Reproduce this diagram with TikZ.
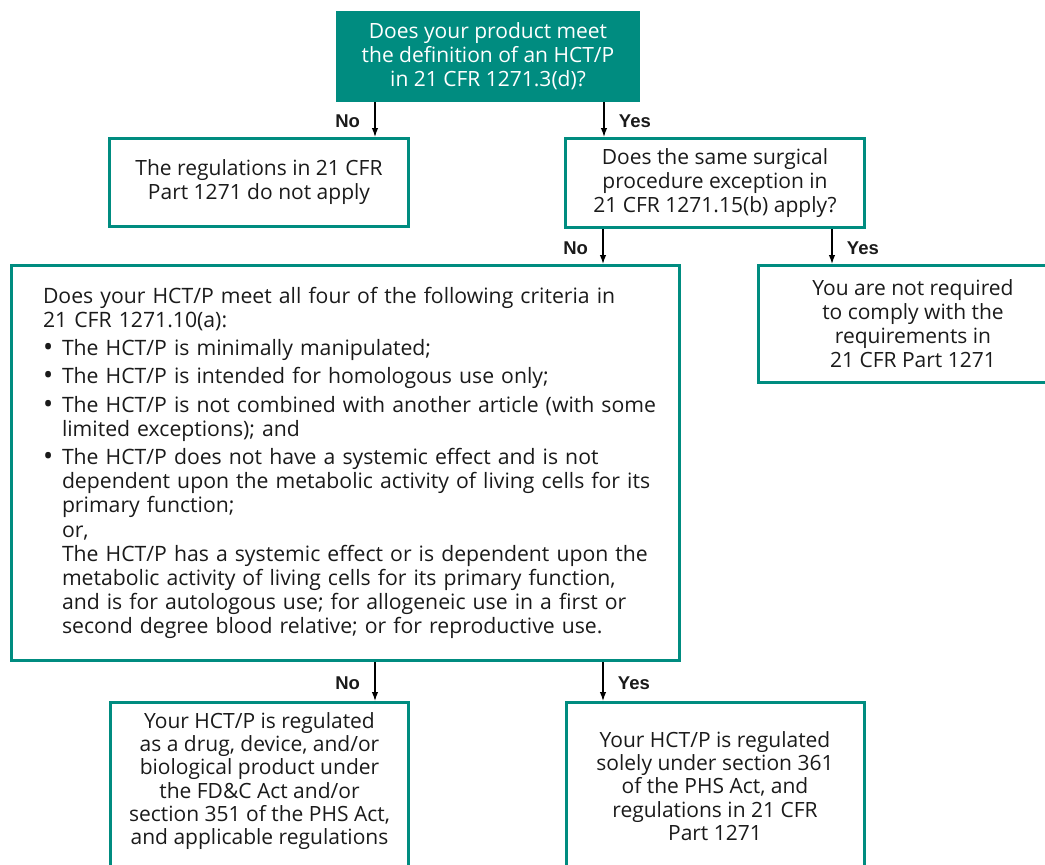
\documentclass[tikz,border=0pt]{standalone}
\usepackage{fontspec}
\setmainfont{Open Sans}
\newfontfamily\labfont{Liberation Sans}
\usetikzlibrary{arrows.meta}
\definecolor{teal1}{HTML}{008C80}
\definecolor{txt}{HTML}{1A1A1A}
\newcommand{\bul}{\makebox[19pt][l]{\raisebox{-1pt}{\fontsize{27}{24}\selectfont •}}}
\newcommand{\ind}{\hspace*{19pt}}
\begin{document}
\begin{tikzpicture}[x=1pt,y=-1pt,
  box/.style={draw=teal1, line width=3pt, align=center, inner sep=0pt,
    font=\fontsize{21}{24}\selectfont, text=txt},
  txtnode/.style={align=center, inner sep=0pt, font=\fontsize{21}{23.2}\selectfont, text=txt},
  arr/.style={-{Latex[length=9pt,width=6.5pt]}, line width=1.3pt},
  lab/.style={font=\labfont\bfseries\fontsize{18.5}{20}\selectfont, text=txt, pos=0.55}]
\useasboundingbox (0,0) rectangle (1045,865);

\node[box, fill=teal1, text=white, minimum width=301pt, minimum height=88pt] (q1) at (488,56.5)
  {Does your product meet\\the definition of an HCT/P\\in 21 CFR 1271.3(d)?};

\node[box, minimum width=299pt, minimum height=88pt] (b2) at (259,182.5)
  {The regulations in 21 CFR\\Part 1271 do not apply};

\node[box, minimum width=299pt, minimum height=89pt] (b3) at (715,183)
  {Does the same surgical\\procedure exception in\\21 CFR 1271.15(b) apply?};

\node[box, minimum width=668pt, minimum height=395pt, text width=650pt, align=left,
  font=\fontsize{21.2}{24.2}\selectfont] (b4) at (345.5,463)
  {\leftskip=22.5pt Does your HCT/P meet all four of the following criteria in\\
   21 CFR 1271.10(a):\\[4pt]
   \bul The HCT/P is minimally manipulated;\\[4pt]
   \bul The HCT/P is intended for homologous use only;\\[4pt]
   \bul The HCT/P is not combined with another article (with some\\
   \ind limited exceptions); and\\[4pt]
   \bul The HCT/P does not have a systemic effect and is not\\
   \ind dependent upon the metabolic activity of living cells for its\\
   \ind primary function;\\
   \ind or,\\
   \ind The HCT/P has a systemic effect or is dependent upon the\\
   \ind metabolic activity of living cells for its primary function,\\
   \ind and is for autologous use; for allogeneic use in a first or\\
   \ind second degree blood relative; or for reproductive use.\par};

\node[box, minimum width=309pt, minimum height=117pt] (b5) at (913,324)
  {You are not required\\to comply with the\\requirements in\\21 CFR Part 1271};

\node[box, anchor=north, minimum width=298pt, minimum height=200pt] (b6) at (259.5,701) {};
\node[txtnode] (t6) at (259.5,781)
  {Your HCT/P is regulated\\as a drug, device, and/or\\biological product under\\the FD\&C Act and/or\\section 351 of the PHS Act,\\and applicable regulations};

\node[box, anchor=north, minimum width=298pt, minimum height=200pt] (b7) at (715.5,701) {};
\node[txtnode] (t7) at (715,786)
  {Your HCT/P is regulated\\solely under section 361\\of the PHS Act, and\\regulations in 21 CFR\\Part 1271};

\draw[arr] ([xshift=-113pt]q1.south) -- ([xshift=116pt]b2.north)
  node[lab, left=11pt] {No};
\draw[arr] ([xshift=116pt]q1.south) -- ([xshift=-111pt]b3.north)
  node[lab, right=11pt] {Yes};
\draw[arr] ([xshift=-112pt]b3.south) -- ([xshift=257.5pt]b4.north)
  node[lab, left=11pt] {No};
\draw[arr] ([xshift=117pt]b3.south) -- ([xshift=-81pt]b5.north)
  node[lab, right=11pt] {Yes};
\draw[arr] ([xshift=29.5pt]b4.south) -- ([xshift=115.5pt]b6.north)
  node[lab, left=11pt] {No};
\draw[arr] ([xshift=257.5pt]b4.south) -- ([xshift=-112.5pt]b7.north)
  node[lab, right=11pt] {Yes};
\end{tikzpicture}
\end{document}
